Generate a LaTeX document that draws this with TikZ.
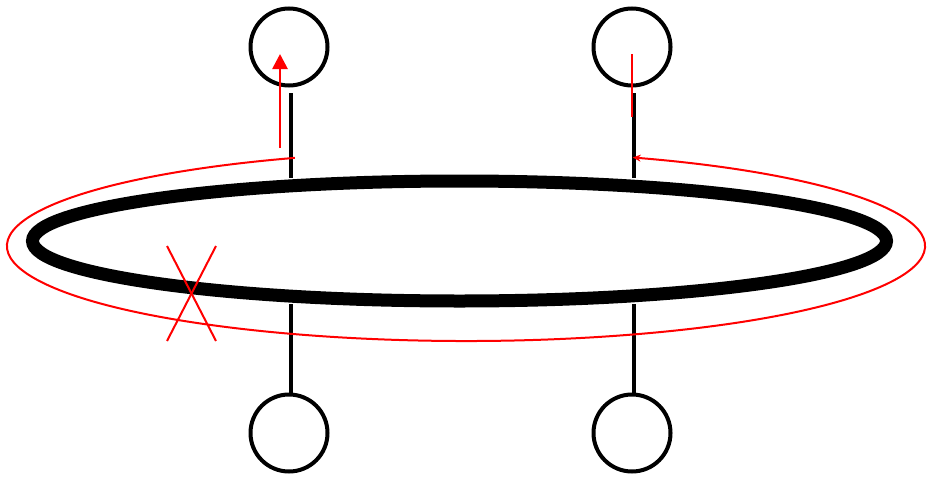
\documentclass[tikz,border=0pt]{standalone}
\usepackage{tikz}
\usetikzlibrary{calc,arrows.meta}

\begin{document}
\begin{tikzpicture}[x=1pt,y=-1pt,
  site/.style={circle,draw,line width=4pt,minimum size=77pt,inner sep=0pt},
  stub/.style={line width=4pt},
  redline/.style={red,line width=2pt}]
  \useasboundingbox (0,0) rectangle (928,479);
  % the four sites
  \node[site] (tl) at (289,47) {};
  \node[site] (tr) at (632,47) {};
  \node[site] (bl) at (289,433) {};
  \node[site] (br) at (632,433) {};
  % ring
  \coordinate (C) at (459.5,241);
  \draw[line width=13pt] (C) ellipse [x radius=427, y radius=60];
  % stubs
  \coordinate (tlr) at (291,178);
  \coordinate (trr) at (634,178);
  \coordinate (blr) at (291,304);
  \coordinate (brr) at (634,304);
  \draw[stub] (291,93) -- (tlr);
  \draw[stub] (634,93) -- (trr);
  \draw[stub] (blr) -- (291,393);
  \draw[stub] (brr) -- (634,393);
  % red loop round the ring
  \coordinate (R) at (466,246);
  \draw[redline,-{Stealth[length=8pt,width=7pt]}] ($(R)+(-111.9:459 and 95)$)
    arc [start angle=-111.9, end angle=-428.7, x radius=459, y radius=95];
  % red arrows at the top
  \coordinate (a0) at (280,148);
  \coordinate (a1) at (280,54);
  \draw[red,line width=2.7pt,-{Triangle[length=15pt,width=15pt]}] (a0) -- (a1);
  \coordinate (b0) at (632,54);
  \coordinate (b1) at (632,117);
  \draw[red,line width=2.5pt] (b0) -- (b1);
  % cut mark
  \draw[redline] (167,246) -- (216,341);
  \draw[redline] (216,246) -- (167,341);
\end{tikzpicture}
\end{document}
